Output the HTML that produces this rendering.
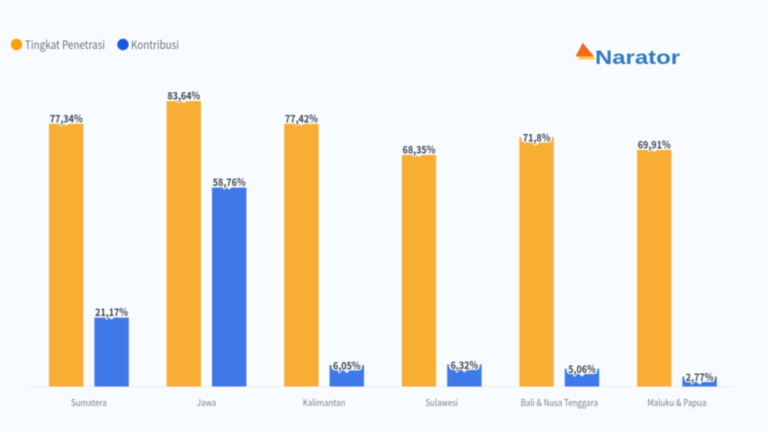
<!DOCTYPE html>
<html lang="id">
<head>
<meta charset="utf-8">
<title>Tingkat Penetrasi dan Kontribusi</title>
<style>
html,body{margin:0;padding:0;width:768px;height:432px;overflow:hidden;background:#f8fbff}
svg{display:block;filter:blur(.45px)}
text{font-family:"Noto Sans CJK JP","Liberation Sans",sans-serif}
</style>
</head>
<body>
<svg id="chart" width="768" height="432" viewBox="0 0 768 432" xmlns="http://www.w3.org/2000/svg">
  <rect width="768" height="432" fill="#f8fbff"/>
  <g>
    <g>
      <circle cx="16.5" cy="44.5" r="5.7" fill="#fb9f0f"/>
      <text x="25" y="49" font-size="11.5" fill="#6b7280" textLength="80" lengthAdjust="spacingAndGlyphs">Tingkat Penetrasi</text>
    </g>
    <g>
      <circle cx="123" cy="44.5" r="5.7" fill="#1559e0"/>
      <text x="131" y="49" font-size="11.5" fill="#6b7280" textLength="48" lengthAdjust="spacingAndGlyphs">Kontribusi</text>
    </g>
  </g>
  <g>
    <polygon points="584.5,46 596,59.5 578,59.5" fill="#fbc94a"/>
    <polygon points="582.8,42.7 594,56.5 575.5,56.5" fill="#f26a1b"/>
    <text x="595" y="64" font-size="19.5" font-weight="700" fill="#2f7cc0" style="font-family:'Liberation Sans',sans-serif" textLength="85" lengthAdjust="spacingAndGlyphs">Narator</text>
  </g>
  <line x1="28" x2="735" y1="386.8" y2="386.8" stroke="#eef0f3" stroke-width="1"/>
  <g id="bars"></g>
  <g id="xlabels"></g>
</svg>
<script>
const categories = ["Sumatera", "Jawa", "Kalimantan", "Sulawesi", "Bali & Nusa Tenggara", "Maluku & Papua"];
const penetrasiValues = [77.4, 84.1, 77.4, 68.2, 73.5, 69.7];
const kontribusiValues = [20.3, 58.6, 6.3, 6.5, 5.25, 2.9];
const penetrasiLabels = ["77,34%", "83,64%", "77,42%", "68,35%", "71,8%", "69,91%"];
const kontribusiLabels = ["21,17%", "58,76%", "6,05%", "6,32%", "5,06%", "2,77%"];
const penetrasiLabelOnBar = [false, false, false, false, true, false];
const kontribusiLabelOnBar = [false, false, true, true, true, true];

const NS = "http://www.w3.org/2000/svg";
const baseY = 386.5;
const pxPerUnit = 3.394;
const firstX = 49;
const stepX = 117.6;
const barW = 34.4;
const blueOffset = 45.4;
const textSqueeze = 0.86;
function yScale(v) { return baseY - v * pxPerUnit; }
function xScale(i) { return firstX + i * stepX; }
function make(tag, attrs) {
  const el = document.createElementNS(NS, tag);
  for (const k in attrs) el.setAttribute(k, attrs[k]);
  return el;
}
function squeeze(t) {
  const w = t.getComputedTextLength() * textSqueeze;
  t.setAttribute("textLength", w);
  t.setAttribute("lengthAdjust", "spacingAndGlyphs");
  return w;
}
const barsG = document.getElementById("bars");
const labelsG = document.getElementById("xlabels");
function drawBar(x, value, label, onBar, color, slug) {
  const top = yScale(value);
  const cx = x + barW / 2;
  const labelCenter = onBar ? top + 0.7 : top - 5.2;
  const bar = make("rect", { x: x, y: top, width: barW, height: baseY - top, fill: color });
  
  
  barsG.appendChild(bar);
  const backing = make("rect", {
    x: cx, y: labelCenter - 5, width: 0, height: 9.6, rx: 3, fill: "#f8fbff"
  });
  
  
  barsG.appendChild(backing);
  const notch = make("polygon", {
    points: (cx - 3) + "," + (labelCenter + 4.5) + " " + (cx + 3) + "," + (labelCenter + 4.5) + " " + cx + "," + (labelCenter + 7.4),
    fill: "#f8fbff"
  });
  
  
  barsG.appendChild(notch);
  const text = make("text", {
    x: cx, y: labelCenter + 3.7, "text-anchor": "middle", "font-size": 10.5, "font-weight": 700,
    fill: "#3f4650", stroke: "#f8fbff", "stroke-width": 2.2, "paint-order": "stroke", "stroke-linejoin": "round"
  });
  
  
  text.textContent = label;
  barsG.appendChild(text);
  const w = squeeze(text);
  if (onBar) {
    backing.setAttribute("x", cx - w / 2 - 1.5);
    backing.setAttribute("width", w + 3);
  } else {
    barsG.removeChild(backing);
  }
}
categories.forEach(function (cat, i) {
  const slug = cat.toLowerCase().replace(/[^a-z]+/g, "-");
  const x = xScale(i);
  drawBar(x, penetrasiValues[i], penetrasiLabels[i], penetrasiLabelOnBar[i], "#f7ae33", "penetrasi-" + slug);
  drawBar(x + blueOffset, kontribusiValues[i], kontribusiLabels[i], kontribusiLabelOnBar[i], "#3f78e8", "kontribusi-" + slug);
  const t = make("text", {
    x: x + (blueOffset + barW) / 2, y: 406, "text-anchor": "middle", "font-size": 9.2, fill: "#7b818a"
  });
  
  
  t.textContent = cat;
  labelsG.appendChild(t);
  squeeze(t);
});
</script>
</body>
</html>
